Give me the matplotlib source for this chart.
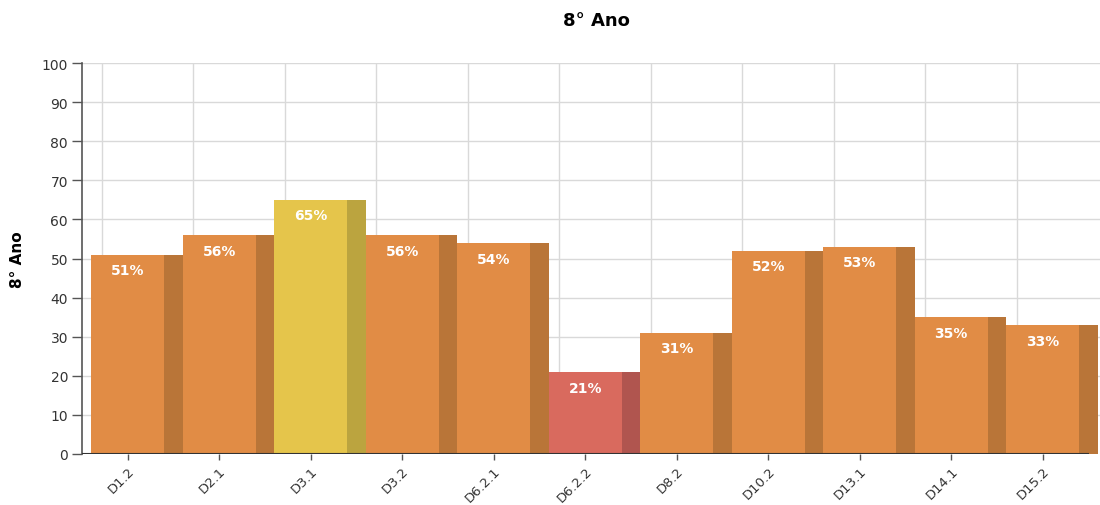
import matplotlib.pyplot as plt
import numpy as np

categories = ['D1.2', 'D2.1', 'D3.1', 'D3.2', 'D6.2.1', 'D6.2.2', 'D8.2',
              'D10.2', 'D13.1', 'D14.1', 'D15.2']
values = [51, 56, 65, 56, 54, 21, 31, 52, 53, 35, 33]
title = '8° Ano'


def bar_colors(v):
    # front face, side face
    if v >= 60:
        return '#E5C54B', '#BBA43F'
    if v < 30:
        return '#D96A5E', '#B0554F'
    return '#E18C45', '#B97538'


fig = plt.figure(figsize=(11, 5.06), dpi=100)
ax = fig.add_axes([82 / 1100, 51 / 506, 1018 / 1100, 391 / 506])

n = len(categories)
x = np.arange(n)
unit_px = 91.5
xmax = -0.5 + 1018 / unit_px
ax.set_xlim(-0.5, xmax)
ax.set_ylim(0, 100)

# grid
for yv in range(10, 101, 10):
    ax.axhline(yv, color='#d9d9d9', lw=1, zorder=0)
for xi in x:
    ax.axvline(xi - 0.284, color='#d9d9d9', lw=1, zorder=0)

for xi, v in zip(x, values):
    front, side = bar_colors(v)
    ax.bar(xi - 0.4, v, width=0.8, align='edge', color=front, zorder=2)
    ax.bar(xi + 0.4, v, width=0.2, align='edge', color=side, zorder=2)
    ax.text(xi, v - 4, f'{v}%', ha='center', va='center', color='white',
            fontsize=10, fontweight='bold', zorder=3)

ax.hlines(0, -0.5, n - 0.5, color='#333333', lw=1.5, zorder=4)

for s in ['top', 'right', 'bottom']:
    ax.spines[s].set_visible(False)
ax.spines['left'].set_color('#555555')
ax.spines['left'].set_linewidth(1.2)

ax.set_yticks(range(0, 101, 10))
ax.set_xticks(x)
ax.set_xticklabels(categories, rotation=45, ha='right', rotation_mode='anchor')
ax.tick_params(axis='y', length=7, width=1, color='#555555', labelsize=10,
               labelcolor='#333333', pad=3)
ax.tick_params(axis='x', length=4, width=1, color='#555555', labelsize=9.5,
               labelcolor='#333333', pad=3)

ax.set_ylabel(title, fontsize=11, fontweight='bold', labelpad=12)
fig.text(596 / 1100, 1 - 21 / 506, title, ha='center', va='center',
         fontsize=13, fontweight='bold')

fig.savefig('out.png', dpi=100)
